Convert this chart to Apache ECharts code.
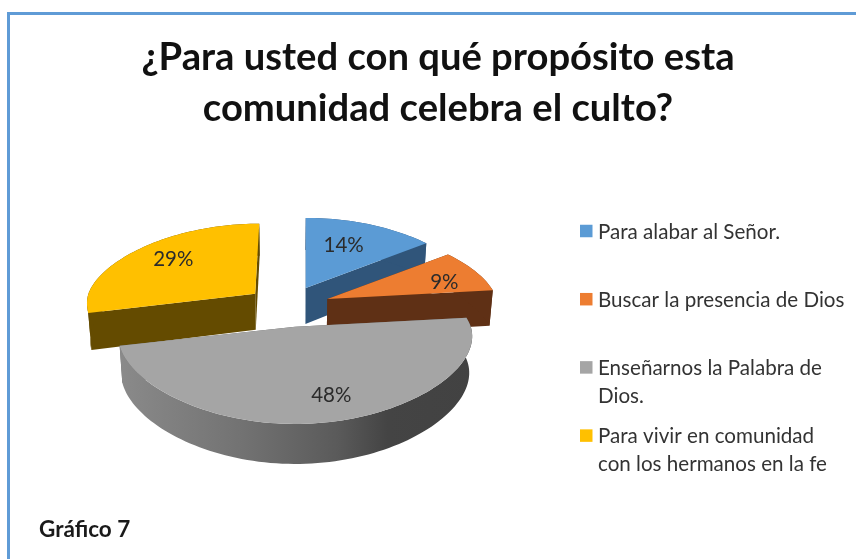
<!DOCTYPE html>
<html>
<head>
<meta charset="utf-8">
<style>html,body{margin:0;padding:0;background:#fff}#c{width:856px;height:559px}</style>
<script src="https://cdn.jsdelivr.net/npm/echarts@6/dist/echarts.min.js"></script>
</head>
<body>
<div id="c"></div>
<script>
var titleText = '¿Para usted con qué propósito esta\ncomunidad celebra el culto?';
var footnote = 'Gráfico 7';
var categories = ['Para alabar al Señor.', 'Buscar la presencia de Dios', 'Enseñarnos la Palabra de\nDios.', 'Para vivir en comunidad\ncon los hermanos en la fe'];
var values = [14, 9, 48, 29];
var topColors = ['#5B9BD5', '#ED7D31', '#A5A5A5', '#FFC000'];
var wallColors = ['#30557A', '#5F3015', {type:'linear',x:0,y:0,x2:1,y2:0,colorStops:[{offset:0,color:'#8A8A8A'},{offset:0.35,color:'#727272'},{offset:0.62,color:'#5A5A5A'},{offset:0.76,color:'#444444'},{offset:1,color:'#424242'}]}, '#644B00'];
var paintOrder = [0, 1, 3, 2];
var labelNudge = [[-10, 3], [9, 3], [10, 6], [6, -3]];
var radiusScale = [0.985, 0.985, 1.02, 0.97];
var sliceShift = [[0, 0], [0, 1], [0, 1], [3, 0]];
var sliceLean = [0, 0, 0, 4];

// projection of the tilted, exploded pie
var cx = 287, cy = 306, R = 172, tiltBack = 70, tiltFront = 72, persp = 0.13, perspFront = 0.26;
var explodeX = 44, explodeY = 20, depth = 36, depthLean = 4, converge = 0.016;
var total = values.reduce(function (a, b) { return a + b; }, 0);

function project(ax, ay, theta, f, i) {
  var u = Math.sin(theta) * f, v = Math.cos(theta) * f;
  var dy = v >= 0 ? tiltBack * v : tiltFront * v / (1 + perspFront * v);
  return [ax + R * radiusScale[i] * u / (1 + persp * v) + sliceLean[i] * Math.max(v, 0), ay - dy, v];
}
function drop(p) {
  return [p[0] + (cx - p[0]) * converge, p[1] + depth - depthLean * p[2]];
}
function renderSlice(params, api) {
  var i = params.dataIndex, before = 0;
  for (var k = 0; k < i; k++) before += values[k];
  var a0 = before / total * 2 * Math.PI, a1 = (before + api.value(0)) / total * 2 * Math.PI, mid = (a0 + a1) / 2;
  var ax = cx + explodeX * Math.sin(mid) + sliceShift[i][0], ay = cy - explodeY * Math.cos(mid) + sliceShift[i][1];
  var arc = [], n = Math.max(8, Math.round((a1 - a0) / 0.03));
  for (var s = 0; s <= n; s++) arc.push(project(ax, ay, a0 + (a1 - a0) * s / n, 1, i));
  var apex = [ax, ay, 0], first = arc[0], last = arc[arc.length - 1];
  var z = paintOrder[i] * 10;
  var clean = function (p) { return [p[0], p[1]]; };
  var wall = arc.map(clean).concat(arc.slice().reverse().map(drop));
  var flat = typeof wallColors[i] === 'string' ? wallColors[i] : '#666666';
  var children = [
    {type:'polygon', z2:z, shape:{points:[apex, first, drop(first), drop(apex)].map(clean)}, style:{fill:flat}},
    {type:'polygon', z2:z, shape:{points:[apex, last, drop(last), drop(apex)].map(clean)}, style:{fill:flat}},
    {type:'polygon', z2:z+1, shape:{points:wall}, style:{fill:wallColors[i]}},
    {type:'polygon', z2:z+2, shape:{points:[[ax, ay]].concat(arc.map(clean))}, style:{fill:topColors[i]}}
  ];
  var lp = project(ax, ay, mid, 0.72, i);
  children.push({type:'text', z2:z+3, style:{text: api.value(0) + '%', x: lp[0] + labelNudge[i][0], y: lp[1] + labelNudge[i][1], fill:'#2b2b2b', font:'20.5px Lato', align:'center', verticalAlign:'middle'}});
  return {type:'group', children:children};
}

var legendTop = 231, legendStep = 68.2, swatchX = 580, swatchSize = 12.5, textX = 598;
var graphicEls = [
  {type:'polyline', silent:true, shape:{points:[[8.5,559],[8.5,13.5],[856,13.5]]}, style:{stroke:'#5F9BD6', lineWidth:3, fill:null}},
  {type:'text', silent:true, style:{text:footnote, x:39, y:530, fill:'#1a1a1a', font:'bold 22.5px Lato', verticalAlign:'middle'}}
];
categories.forEach(function (name, i) {
  var y = legendTop + i * legendStep;
  graphicEls.push({type:'rect', silent:true, shape:{x:swatchX, y:y - swatchSize/2, width:swatchSize, height:swatchSize}, style:{fill:topColors[i]}});
  graphicEls.push({type:'text', silent:true, style:{text:name, x:textX, y:y - 13, fill:'#333333', font:'20.6px Lato', lineHeight:28, verticalAlign:'top'}});
});

var chart = echarts.init(document.getElementById('c'), null, {renderer:'canvas'});
chart.setOption({
  animation:false,
  backgroundColor:'#ffffff',
  title:{text:titleText, left:433, top:27, textAlign:'center', textStyle:{fontFamily:'Lato', fontWeight:'bold', fontSize:38.2, lineHeight:51, color:'#111111'}},
  graphic:graphicEls,
  series:[{type:'custom', coordinateSystem:'none', silent:true, renderItem:renderSlice,
    data:categories.map(function (name, i) { return {name:name.replace('\n',' '), value:[values[i]]}; })}]
});
</script>
</body>
</html>
